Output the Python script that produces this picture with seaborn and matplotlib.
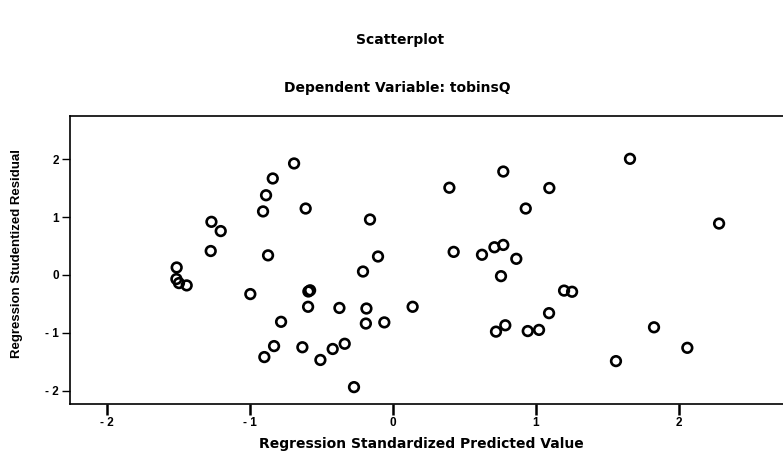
import matplotlib
matplotlib.use("Agg")
import matplotlib.pyplot as plt
import seaborn as sns
import pandas as pd

pred = [-0.692, -0.841, -0.888, -0.909, -0.611, -1.27, -1.205, -1.275, -0.874,
        -0.161, -0.105, -0.21, -1.513, -1.515, -1.497, -1.443, -0.998, -0.58,
        -0.592, -0.594, -0.375, -0.186, -0.19, -0.061, -0.783, -0.832, -0.634,
        -0.90, -0.508, -0.422, -0.338, -0.273, 1.657, 0.771, 0.394, 1.093,
        0.928, 2.28, 0.424, 0.622, 0.709, 0.771, 0.862, 0.755, 1.196, 1.252,
        0.137, 1.091, 0.720, 0.785, 0.942, 1.021, 1.825, 2.058, 1.559]
resid = [1.93, 1.67, 1.38, 1.10, 1.15, 0.92, 0.76, 0.415, 0.34,
         0.96, 0.32, 0.06, 0.13, -0.07, -0.14, -0.18, -0.33, -0.265,
         -0.285, -0.55, -0.57, -0.58, -0.84, -0.82, -0.81, -1.23, -1.25,
         -1.42, -1.47, -1.28, -1.19, -1.94, 2.01, 1.79, 1.51, 1.505,
         1.15, 0.89, 0.40, 0.35, 0.48, 0.52, 0.28, -0.02, -0.27, -0.29,
         -0.55, -0.66, -0.98, -0.87, -0.97, -0.95, -0.905, -1.26, -1.49]

x_ticks = [-2, -1, 0, 1, 2]
x_tick_labels = ["- 2", "- 1", "0", "1", "2"]
y_ticks = [-2, -1, 0, 1, 2]
y_tick_labels = ["- 2", "- 1", "0", "1", "2"]

df = pd.DataFrame({"pred": pred, "resid": resid})

sns.set_style("white")
plt.rcParams["font.family"] = ["DejaVu Sans"]
plt.rcParams["text.color"] = "black"
plt.rcParams["axes.labelcolor"] = "black"
plt.rcParams["xtick.color"] = "black"
plt.rcParams["ytick.color"] = "black"

fig = plt.figure(figsize=(7.83, 4.54), dpi=100)
ax = fig.add_axes([70 / 783, 1 - 404 / 454, 1 - 70 / 783, (404 - 116) / 454])

sns.scatterplot(data=df, x="pred", y="resid", ax=ax, marker="o", s=48,
                facecolor="none", edgecolor="black", linewidth=1.9, zorder=3)

ax.set_xlim(-2.259, 2.727)
ax.set_ylim(-2.232, 2.751)
ax.set_xticks(x_ticks)
ax.set_xticklabels(x_tick_labels, fontsize=8.5, fontweight="bold",
                   family="Liberation Sans")
ax.set_yticks(y_ticks)
ax.set_yticklabels(y_tick_labels, fontsize=8.5, fontweight="bold",
                   family="Liberation Sans")
ax.tick_params(axis="x", direction="out", length=8, width=1.8, pad=1, bottom=True)
ax.tick_params(axis="y", direction="out", length=6, width=1.0, pad=2, left=True)
for sp in ["left", "bottom", "top"]:
    ax.spines[sp].set_color("black")
    ax.spines[sp].set_linewidth(1.2)
ax.spines["right"].set_visible(False)
ax.set_xlabel("")
ax.set_ylabel("")

fig.text(400 / 783, 1 - 40 / 454, "Scatterplot", ha="center", va="center",
         fontsize=10, fontweight="bold")
fig.text(397 / 783, 1 - 88 / 454, "Dependent Variable: tobinsQ", ha="center",
         va="center", fontsize=10, fontweight="bold")
fig.text(421 / 783, 1 - 444 / 454, "Regression Standardized Predicted Value",
         ha="center", va="center", fontsize=10, fontweight="bold")
fig.text(17 / 783, 1 - 253 / 454, "Regression Studentized Residual",
         ha="center", va="center", fontsize=9.5, fontweight="bold", rotation=90,
         family="Liberation Sans")

fig.savefig("out.png", dpi=100)
